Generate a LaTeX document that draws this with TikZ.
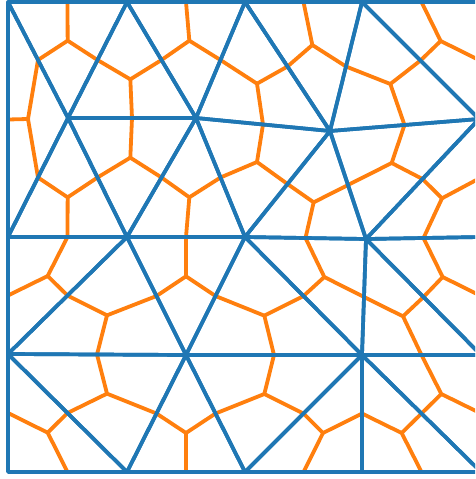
\documentclass[tikz,border=0pt]{standalone}
\usetikzlibrary{calc}
\definecolor{tblue}{HTML}{1F77B4}
\definecolor{torange}{HTML}{FF7F0E}
\begin{document}
\begin{tikzpicture}[x=1pt,y=-1pt,
  mesh/.style={draw=tblue,line width=3.7pt,line join=round},
  dual/.style={draw=torange,line width=3.8pt,line join=round}]
\useasboundingbox (0,0) rectangle (475,479);
\clip (0,0) rectangle (475,479);
% mesh vertices
\coordinate (A) at (8,2);   \coordinate (B) at (127,2);  \coordinate (G) at (245,2);
\coordinate (H) at (362,2); \coordinate (Z) at (481,2);
\coordinate (C) at (68,118); \coordinate (D) at (196,118); \coordinate (I) at (330,131);
\coordinate (J) at (479,119);
\coordinate (E) at (8,237); \coordinate (F) at (127,237); \coordinate (K) at (245,237);
\coordinate (L) at (366,239); \coordinate (U) at (481,237);
\coordinate (M) at (8,354); \coordinate (N) at (186,355); \coordinate (P) at (362,355);
\coordinate (S) at (481,355);
\coordinate (W) at (8,472); \coordinate (O) at (127,472); \coordinate (Q) at (245,472);
\coordinate (R) at (362,472); \coordinate (T) at (481,472);
\def\tris{A/B/C, B/C/D, B/D/G, D/G/I, G/H/I, H/I/J, H/J/Z,
  A/C/E, C/E/F, C/D/F, D/F/K, D/I/K, I/K/L, I/J/L, J/L/U,
  E/F/M, F/M/N, F/K/N, K/N/P, K/L/P, L/P/S, L/U/S,
  M/W/O, M/N/O, N/O/Q, N/P/Q, P/Q/R, P/R/T, P/S/T}
% dual (centroid to edge midpoints)
\foreach \a/\b/\c in \tris {
  \coordinate (g) at ($1/3*(\a)+1/3*(\b)+1/3*(\c)$);
  \draw[dual] ($(\a)!0.5!(\b)$) -- (g) -- ($(\b)!0.5!(\c)$);
  \draw[dual] (g) -- ($(\a)!0.5!(\c)$);
}
% triangulation
\foreach \a/\b/\c in \tris {
  \draw[mesh] (\a) -- (\b) -- (\c) -- cycle;
}
\end{tikzpicture}
\end{document}
